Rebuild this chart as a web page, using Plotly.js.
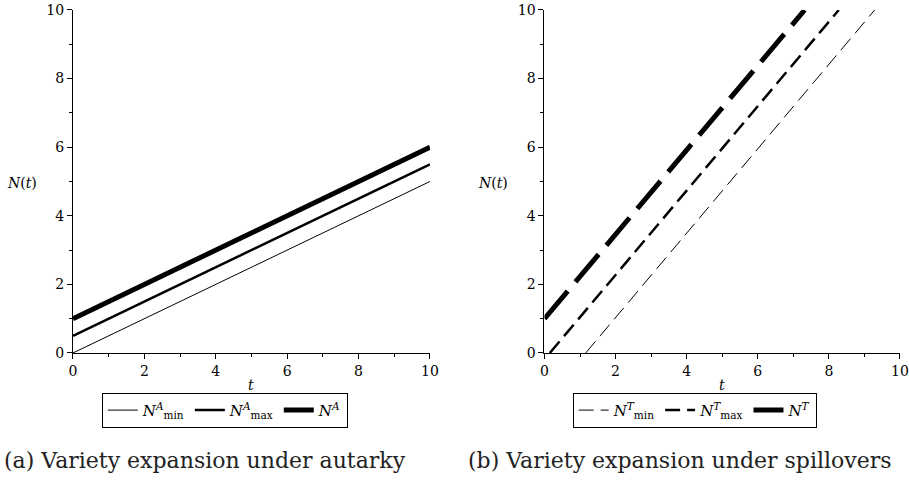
<!DOCTYPE html>
<html>
<head>
<meta charset="utf-8">
<script src="https://cdn.plot.ly/plotly-3.0.1.min.js"></script>
<style>html,body{margin:0;padding:0;background:#fff;}#chart{width:909px;height:485px;}</style>
</head>
<body>
<div id="chart"></div>
<script>
// Panel (a): autarky
var tA = [0, 10];
var NAmin = [0, 5];
var NAmax = [0.5, 5.5];
var NA = [1, 6];

// Panel (b): spillovers
var tTmin = [1.16, 9.29];
var NTmin = [0, 10];
var tTmax = [0.15, 8.28];
var NTmax = [0, 10];
var tT = [0, 7.32];
var NT = [1, 10];

var xTicks = [0, 2, 4, 6, 8, 10];
var yTicks = [0, 2, 4, 6, 8, 10];

var namesA = ['<i>N</i><sup><i>A</i></sup><sub>min</sub>', '<i>N</i><sup><i>A</i></sup><sub>max</sub>', '<i>N</i><sup><i>A</i></sup>'];
var namesT = ['<i>N</i><sup><i>T</i></sup><sub>min</sub>', '<i>N</i><sup><i>T</i></sup><sub>max</sub>', '<i>N</i><sup><i>T</i></sup>'];

var serif = 'DejaVu Serif';

var traces = [
  {x: tA, y: NAmin, name: namesA[0], mode: 'lines', line: {color: '#000', width: 1}, xaxis: 'x', yaxis: 'y', legend: 'legend'},
  {x: tA, y: NAmax, name: namesA[1], mode: 'lines', line: {color: '#000', width: 2.5}, xaxis: 'x', yaxis: 'y', legend: 'legend'},
  {x: tA, y: NA, name: namesA[2], mode: 'lines', line: {color: '#000', width: 5}, xaxis: 'x', yaxis: 'y', legend: 'legend'},
  {x: tTmin, y: NTmin, name: namesT[0], mode: 'lines', line: {color: '#000', width: 1, dash: '15px,7px'}, xaxis: 'x2', yaxis: 'y2', legend: 'legend2'},
  {x: tTmax, y: NTmax, name: namesT[1], mode: 'lines', line: {color: '#000', width: 2.5, dash: '15px,7px'}, xaxis: 'x2', yaxis: 'y2', legend: 'legend2'},
  {x: tT, y: NT, name: namesT[2], mode: 'lines', line: {color: '#000', width: 5, dash: '36px,12px'}, xaxis: 'x2', yaxis: 'y2', legend: 'legend2'}
];

function axis(domain, anchor, ticks) {
  return {
    domain: domain, anchor: anchor, range: [0, 10], fixedrange: true,
    showline: true, linecolor: '#000', linewidth: 1, mirror: false,
    showgrid: false, zeroline: false,
    ticks: 'outside', ticklen: 5, tickwidth: 1, tickcolor: '#000',
    tickvals: ticks, ticktext: ticks.map(String),
    minor: {dtick: 1, tick0: 0, ticks: 'outside', ticklen: 3, tickwidth: 1, tickcolor: '#000', showgrid: false},
    tickfont: {family: serif, size: 14, color: '#000'}
  };
}

var layout = {
  width: 909, height: 485,
  margin: {l: 0, r: 0, t: 0, b: 0},
  paper_bgcolor: '#fff', plot_bgcolor: '#fff',
  font: {family: serif, color: '#000'},
  showlegend: true,
  xaxis: axis([0.0803, 0.473], 'y', xTicks),
  yaxis: axis([0.2722, 0.9794], 'x', yTicks),
  xaxis2: axis([0.599, 0.990], 'y2', xTicks),
  yaxis2: axis([0.2722, 0.9794], 'x2', yTicks),
  legend: {
    orientation: 'h', xanchor: 'left', yanchor: 'top', x: 0.112, y: 0.19,
    bgcolor: '#fff', bordercolor: '#000', borderwidth: 1,
    font: {family: serif, size: 15, color: '#000'}, traceorder: 'normal', itemwidth: 30
  },
  legend2: {
    orientation: 'h', xanchor: 'left', yanchor: 'top', x: 0.630, y: 0.19,
    bgcolor: '#fff', bordercolor: '#000', borderwidth: 1,
    font: {family: serif, size: 15, color: '#000'}, traceorder: 'normal', itemwidth: 30
  },
  annotations: [
    {text: '<i>N</i>(<i>t</i>)', xref: 'paper', yref: 'paper', x: 22 / 909, y: (485 - 183) / 485, xanchor: 'center', yanchor: 'middle', showarrow: false, font: {family: serif, size: 14, color: '#000'}},
    {text: '<i>N</i>(<i>t</i>)', xref: 'paper', yref: 'paper', x: 493 / 909, y: (485 - 183) / 485, xanchor: 'center', yanchor: 'middle', showarrow: false, font: {family: serif, size: 14, color: '#000'}},
    {text: '<i>t</i>', xref: 'paper', yref: 'paper', x: 251 / 909, y: (485 - 385) / 485, xanchor: 'center', yanchor: 'middle', showarrow: false, font: {family: serif, size: 14, color: '#000'}},
    {text: '<i>t</i>', xref: 'paper', yref: 'paper', x: 722 / 909, y: (485 - 385) / 485, xanchor: 'center', yanchor: 'middle', showarrow: false, font: {family: serif, size: 14, color: '#000'}},
    {text: '(a) Variety expansion under autarky', xref: 'paper', yref: 'paper', x: 2 / 909, y: (485 - 460) / 485, xanchor: 'left', yanchor: 'middle', showarrow: false, font: {family: serif, size: 22, color: '#222'}},
    {text: '(b) Variety expansion under spillovers', xref: 'paper', yref: 'paper', x: 466 / 909, y: (485 - 460) / 485, xanchor: 'left', yanchor: 'middle', showarrow: false, font: {family: serif, size: 22, color: '#222'}}
  ]
};

Plotly.newPlot('chart', traces, layout, {staticPlot: true, displayModeBar: false});
</script>
</body>
</html>
